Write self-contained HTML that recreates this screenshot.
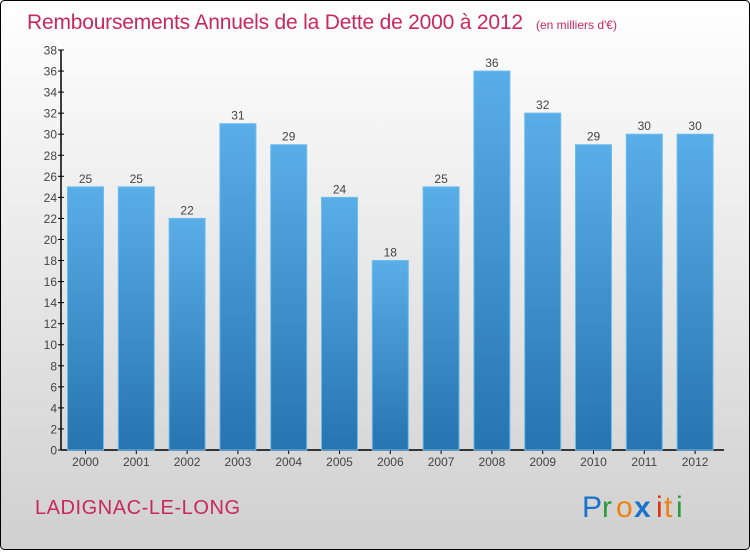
<!DOCTYPE html>
<html><head><meta charset="utf-8"><style>
body{margin:0;width:750px;height:550px;overflow:hidden;font-family:"Liberation Sans",sans-serif}
</style></head><body>
<svg width="750" height="550" xmlns="http://www.w3.org/2000/svg">
<defs>
<linearGradient id="bg" x1="0" y1="0" x2="0" y2="1"><stop offset="0" stop-color="#ffffff"/><stop offset="1" stop-color="#d0d0d0"/></linearGradient>
<linearGradient id="bar" x1="0" y1="0" x2="0" y2="1"><stop offset="0" stop-color="#5aaee8"/><stop offset="1" stop-color="#2674b0"/></linearGradient>
</defs>
<rect x="0.5" y="0.5" width="749" height="549" rx="4" fill="url(#bg)" stroke="#000"/>
<text x="27" y="29" font-size="21" fill="#c8285f" textLength="496">Remboursements Annuels de la Dette de 2000 à 2012</text>
<text x="536" y="29" font-size="12" fill="#c8285f">(en milliers d'€)</text>
<g id="axes"></g>
<g id="bars"></g>
<text x="35" y="514" font-size="20" fill="#c8285f" textLength="205">LADIGNAC-LE-LONG</text>
<g font-size="30" font-family="Liberation Sans, sans-serif">
<text x="582" y="517" fill="#1a73c8">P</text><text x="602" y="517" fill="#2a9a3a">r</text><text x="616" y="517" fill="#f08010">o</text><text x="634" y="517" fill="#1a73c8" font-weight="bold">x</text><text x="656" y="517" fill="#e03010">i</text><text x="664" y="517" fill="#f08010">t</text><text x="676" y="517" fill="#2a9a3a">i</text>
</g>
</svg>
<script>
const years=["2000","2001","2002","2003","2004","2005","2006","2007","2008","2009","2010","2011","2012"];
const values=[25,25,22,31,29,24,18,25,36,32,29,30,30];
const yTicks=[0,2,4,6,8,10,12,14,16,18,20,22,24,26,28,30,32,34,36,38];
const NS="http://www.w3.org/2000/svg";
const y0=450,yTop=50,yMax=38,xL=61,step=50.8,x0=85.5,bw=36;
const ys=v=>y0-(v/yMax)*(y0-yTop);
const xs=i=>x0+i*step;
function mk(t,a,p){const e=document.createElementNS(NS,t);for(const k in a)e.setAttribute(k,a[k]);p.appendChild(e);return e;}
const ax=document.getElementById('axes'),bg=document.getElementById('bars');
const yl=mk('line',{x1:xL,y1:yTop,x2:xL,y2:y0,stroke:'#000','stroke-width':1.5},ax);


const xl=mk('line',{x1:xL,y1:y0,x2:724,y2:y0,stroke:'#000','stroke-width':1.5},ax);


yTicks.forEach(v=>{const y=ys(v);
mk('line',{x1:xL-3,y1:y,x2:xL+3,y2:y,stroke:'#000'},ax);
const t=mk('text',{x:xL-4,y:y+4.5,'font-size':12,fill:'#444','text-anchor':'end'},ax);t.textContent=v;

});
years.forEach((yr,i)=>{const x=xs(i);
mk('line',{x1:x,y1:y0,x2:x,y2:y0+4,stroke:'#000'},ax);
const t=mk('text',{x:x,y:y0+16,'font-size':12,fill:'#444','text-anchor':'middle'},ax);t.textContent=yr;


const r=mk('rect',{x:x-bw/2,y:ys(values[i]),width:bw,height:y0-ys(values[i]),fill:'url(#bar)',stroke:'#6cbcf0','stroke-width':1},bg);


const l=mk('text',{x:x,y:ys(values[i])-4,'font-size':12,fill:'#444','text-anchor':'middle'},bg);l.textContent=values[i];

});
</script>
</body></html>
